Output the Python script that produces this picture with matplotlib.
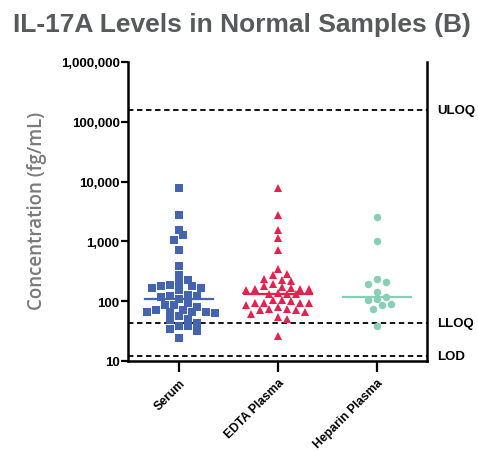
import numpy as np
import matplotlib
matplotlib.use("Agg")
import matplotlib.pyplot as plt
import matplotlib.transforms as mtransforms
from matplotlib.ticker import FixedLocator, NullLocator

# ---------------- data ----------------
categories = ["Serum", "EDTA Plasma", "Heparin Plasma"]
serum = [7900, 2740, 1560, 1265, 1060, 720, 382, 277, 229, 198, 188, 181, 177,
         166, 166, 151, 128, 123, 123, 117, 108, 95, 87, 87, 81, 72, 72, 67, 67,
         67, 65, 63, 57, 51, 49, 44, 39, 38, 34, 32, 24]
edta = [7700, 2740, 1580, 1140, 710, 345, 285, 277, 238, 228, 220, 196, 181, 170,
        166, 160, 160, 160, 155, 137, 133, 131, 105, 105, 99, 95, 95, 95, 93, 87,
        79, 74, 74, 72, 72, 67, 61, 55, 50, 26, 130]
heparin = [2540, 1030, 238, 206, 196, 142, 116, 108, 103, 90, 87, 74, 39]
ref_names = ["ULOQ", "LLOQ", "LOD"]
ref_values = [155000, 44, 12]
y_ticks = [10, 100, 1000, 10000, 100000, 1000000]
y_tick_labels = ["10", "100", "1,000", "10,000", "100,000", "1,000,000"]

colors = ["#4564B0", "#E5214F", "#88CFB5"]
markers = ["s", "^", "o"]
msizes = [5.2, 6.2, 5.4]

plt.rcParams["font.family"] = ["Liberation Sans", "DejaVu Sans"]

W, H = 478, 452
fig = plt.figure(figsize=(W / 100, H / 100), dpi=100)
L, R, T, B = 128, 427, 63, 362
ax = fig.add_axes([L / W, 1 - B / H, (R - L) / W, (B - T) / H])
ax.set_yscale("log")
ax.set_ylim(10, 1e6)
ax.set_xlim(-0.515, 2.505)

# spines
for s in ["left", "bottom", "right"]:
    ax.spines[s].set_linewidth(1.8)
    ax.spines[s].set_color("black")
ax.spines["top"].set_visible(False)

ax.yaxis.set_major_locator(FixedLocator(y_ticks))
ax.yaxis.set_minor_locator(NullLocator())
ax.set_yticklabels(y_tick_labels, fontsize=9.5, fontweight="bold")
ax.tick_params(axis="y", which="major", length=5, width=1.6, pad=1)
ax.set_xticks(range(len(categories)))
ax.set_xticklabels(categories, rotation=45, ha="right", rotation_mode="anchor",
                   fontsize=8.8, fontweight="bold")
ax.tick_params(axis="x", length=8, width=1.6, pad=3)

# reference lines
for name, v in zip(ref_names, ref_values):
    ax.axhline(v, color="black", lw=1.3, ls=(0, (3, 2)), zorder=1)
    trans = mtransforms.blended_transform_factory(ax.transAxes, ax.transData)
    ax.text(1.033, v, name, transform=trans, fontsize=9.5, fontweight="bold",
            va="center", ha="left")

# beeswarm placement in pixel space
fig.canvas.draw()
def ypix(v):
    return ax.transData.transform((0, v))[1]
px_per_unit = ax.transData.transform((1, 10))[0] - ax.transData.transform((0, 10))[0]

def swarm(vals, step=4.5, md=7.0):
    placed = []
    offs = np.zeros(len(vals))
    order = sorted(range(len(vals)), key=lambda i: -vals[i])
    cands = [0]
    for k in range(1, 30):
        cands += [k * step, -k * step]
    for i in order:
        y = ypix(vals[i])
        for c in cands:
            if all((c - px) ** 2 + (y - py) ** 2 >= md ** 2 for px, py in placed):
                break
        placed.append((c, y))
        offs[i] = c / px_per_unit
    return offs

for i, (vals, col, mk, ms) in enumerate(zip([serum, edta, heparin], colors, markers, msizes)):
    offs = swarm(vals)
    ax.plot(i + offs, vals, ls="none", marker=mk, ms=ms, color=col,
            markeredgewidth=0, zorder=3, clip_on=False)
    med = np.median(vals)
    ax.plot([i - 0.34, i + 0.34], [med, med], color=col, lw=1.6, zorder=4)

fig.text(0.506, 1 - 25 / H, "IL-17A Levels in Normal Samples (B)", ha="center",
         va="center", fontsize=19, fontweight="bold", color="#58595B")
fig.text(37 / W, 1 - 211 / H, "Concentration (fg/mL)", rotation=90, ha="center",
         va="center", fontsize=13.5, fontweight="semibold", color="#7A7A7A",
         family=["Open Sans", "DejaVu Sans"])

fig.savefig("out.png", dpi=100)
